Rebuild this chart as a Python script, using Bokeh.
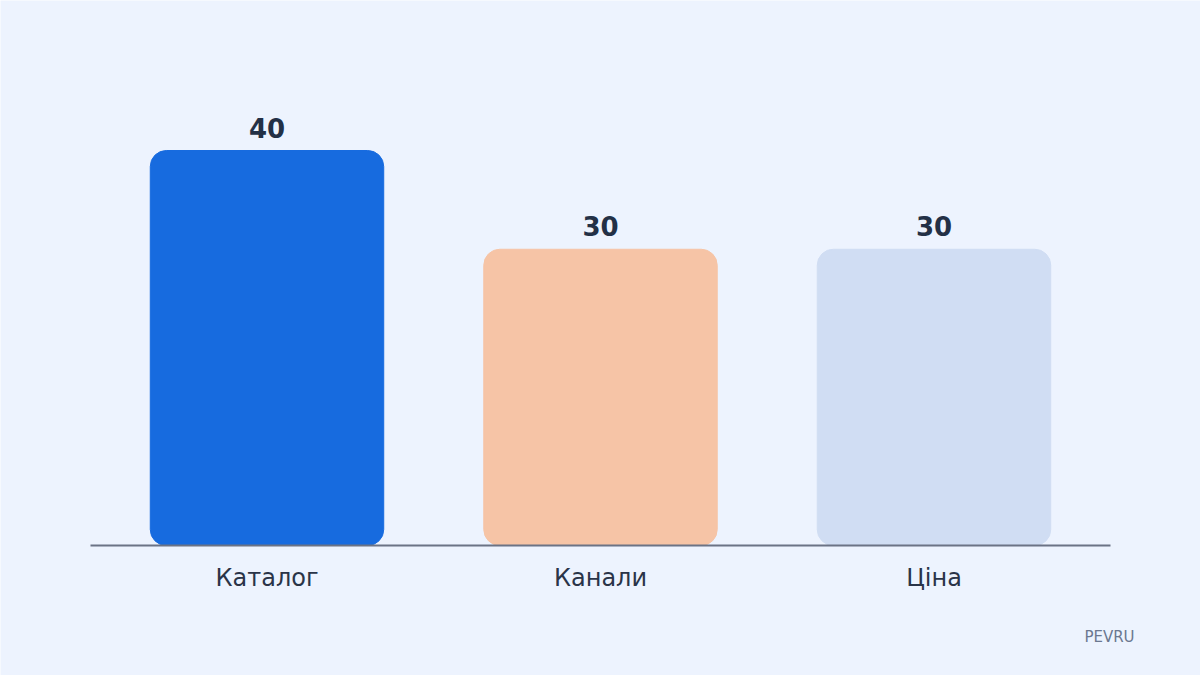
from bokeh.plotting import figure
from bokeh.models import ColumnDataSource, Range1d
from bokeh.core.properties import value
from bokeh.embed import file_html
from bokeh.resources import INLINE

categories = ["Каталог", "Канали", "Ціна"]
values = [40, 30, 30]
colors = ["#176BDF", "#F6C4A6", "#D0DDF3"]
value_labels = ["40", "30", "30"]

BG = "#EDF3FE"
PX_PER_UNIT = 9.875   # vertical pixels per data unit
PX_PER_CAT = 333.5    # horizontal pixels per category step
CX = 600              # pixel of the middle category
BASE_Y = 545          # pixel of the baseline

xs = list(range(len(categories)))
src = ColumnDataSource(dict(x=xs, top=values, color=colors, cat=categories,
                            lab=value_labels,
                            ly=[v + 23 / PX_PER_UNIT for v in values],
                            cy=[-32 / PX_PER_UNIT] * len(values)))

W, H = 1200, 675
p = figure(width=W, height=H, output_backend="svg", toolbar_location=None,
           x_range=Range1d(1 - CX / PX_PER_CAT, 1 + (W - CX) / PX_PER_CAT),
           y_range=Range1d(-(H - BASE_Y) / PX_PER_UNIT, BASE_Y / PX_PER_UNIT),
           min_border=0, background_fill_color=BG, border_fill_color=BG)
p.axis.visible = False
p.xgrid.visible = False
p.ygrid.visible = False
p.outline_line_color = None

p.vbar(x="x", top="top", bottom=0, width=0.7, color="color", source=src,
       border_radius=16)

# baseline
p.segment(x0=[1 + (90 - CX) / PX_PER_CAT], x1=[1 + (1110 - CX) / PX_PER_CAT],
          y0=[0], y1=[0], line_color="#6B7385", line_width=2)

p.text(x="x", y="ly", text="lab", source=src, text_align="center",
       text_baseline="middle", text_font=value("DejaVu Sans"),
       text_font_style="bold", text_font_size="26px", text_color="#233046")

p.text(x="x", y="cy", text="cat", source=src, text_align="center",
       text_baseline="middle", text_font=value("DejaVu Sans"),
       text_font_size="24px", text_color="#2A3448")

p.text(x=[1 + (1109 - CX) / PX_PER_CAT], y=[-(636 - BASE_Y) / PX_PER_UNIT],
       text=["PEVRU"], text_align="center", text_baseline="middle",
       text_font=value("DejaVu Sans"), text_font_size="15px",
       text_color="#6B7890")

open("out.html", "w").write(file_html(p, INLINE))
